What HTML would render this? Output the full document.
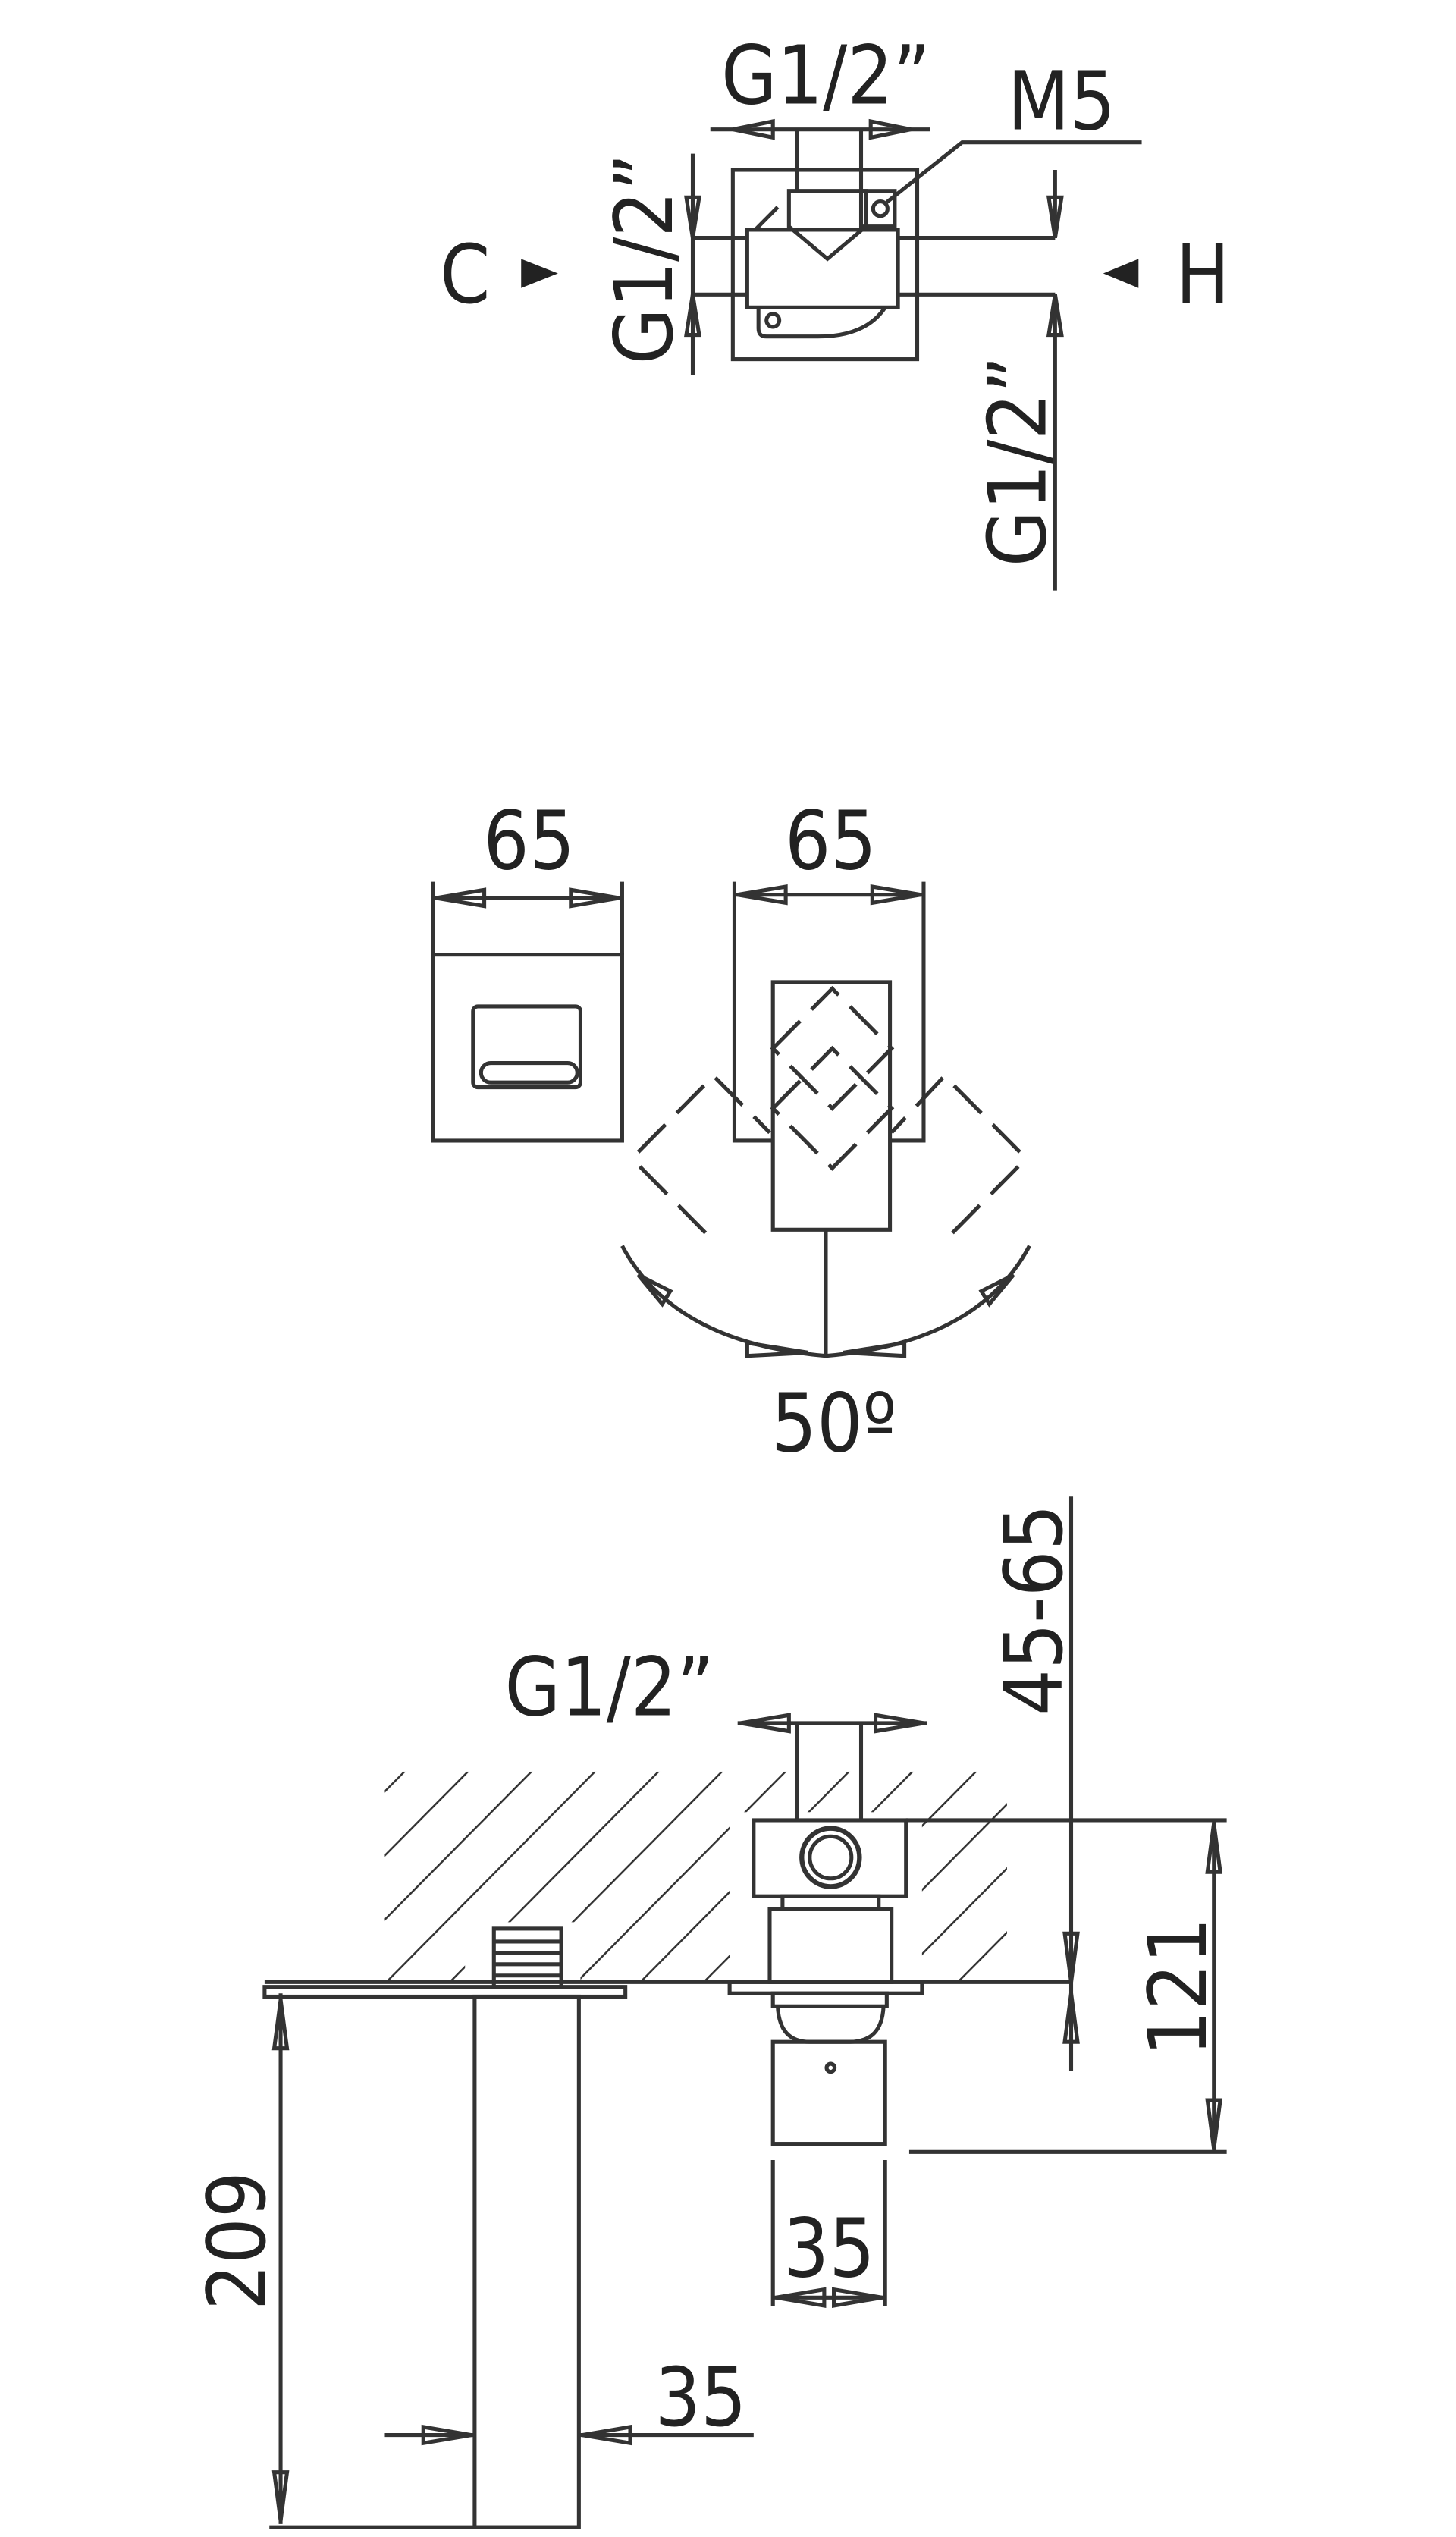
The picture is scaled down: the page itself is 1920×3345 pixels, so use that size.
<!DOCTYPE html>
<html><head><style>
html,body{margin:0;padding:0;background:#fff;}
svg{display:block;}
text{font-family:"DejaVu Sans Condensed","Liberation Sans Narrow","Liberation Sans",sans-serif;fill:#222;}
</style></head><body>
<svg width="1920" height="3345" viewBox="0 0 908 1568" preserveAspectRatio="none" xmlns="http://www.w3.org/2000/svg">
<defs>
<pattern id="h" patternUnits="userSpaceOnUse" width="28" height="28" patternTransform="rotate(45)">
<line x1="0" y1="0" x2="0" y2="28" stroke="#333" stroke-width="2.4"/>
</pattern>
</defs>
<g fill="none" stroke="#333" stroke-width="2.4">
<rect x="457" y="105" width="115" height="117"/>
<line x1="443" y1="80" x2="580" y2="80"/>
<path d="M457 80 l25 -5 v10 z M568 80 l-25 -5 v10 z"/>
<line x1="497" y1="80" x2="497" y2="118"/>
<line x1="537" y1="80" x2="537" y2="118"/>
<path d="M492 118 H540 V140 L516 160 L492 140 Z"/>
<rect x="537" y="118" width="21" height="22"/>
<circle cx="549" cy="129" r="4.5"/>
<path d="M553 125 L600 88 H712"/>
<rect x="466" y="142" width="94" height="48"/>
<path d="M473 190 V203 Q473 208 478 208 H510 Q540 208 552 190"/>
<circle cx="482" cy="198" r="4"/>
<path d="M471 142 L485 128"/>
<line x1="432" y1="147" x2="466" y2="147"/>
<line x1="432" y1="182" x2="466" y2="182"/>
<line x1="560" y1="147" x2="658" y2="147"/>
<line x1="560" y1="182" x2="658" y2="182"/>
<line x1="432" y1="95" x2="432" y2="232"/>
<path d="M432 147 l-4 -25 h8 z M432 182 l-4 25 h8 z"/>
<line x1="658" y1="105" x2="658" y2="147"/>
<line x1="658" y1="182" x2="658" y2="365"/>
<path d="M658 147 l-4 -25 h8 z M658 182 l-4 25 h8 z"/>
<rect x="270" y="590" width="118" height="115"/>
<rect x="295" y="622" width="67" height="50" rx="3"/>
<rect x="300" y="657" width="60" height="12" rx="6"/>
<line x1="270" y1="545" x2="270" y2="590"/>
<line x1="388" y1="545" x2="388" y2="590"/>
<line x1="270" y1="555" x2="388" y2="555"/>
<path d="M272 555 l30 -5 v10 z M386 555 l-30 -5 v10 z"/>
<path d="M458 545 V705 H482 M555 705 H576 V545"/>
<line x1="458" y1="553" x2="576" y2="553"/>
<path d="M460 553 l30 -5 v10 z M574 553 l-30 -5 v10 z"/>
<rect x="482" y="607" width="73" height="153"/>
<g stroke-dasharray="24 10">
<path d="M482 648 L519 611 L556 648 L519 685 Z"/>
<path d="M482 685 L519 648 L556 685 L519 722 Z"/>
<path d="M398 712 L445 665 L480 700 M440 762 L398 720"/>
<path d="M636 712 L589 665 L556 700 M594 762 L636 720"/>
</g>
<line x1="515" y1="760" x2="515" y2="838"/>
<path d="M388 770 Q420 830 515 838 Q610 830 642 770"/>
<path d="M398 788 l15 18 l5 -8 z M632 788 l-15 18 l-5 -8 z M466 830 l38 6 l-38 2 z M564 830 l-38 6 l38 2 z"/>
<rect x="240" y="1095" width="388" height="130" fill="url(#h)" stroke="none"/>
<rect x="455" y="1120" width="120" height="104" fill="#fff" stroke="none"/>
<rect x="290" y="1188" width="72" height="36" fill="#fff" stroke="none"/>
<line x1="165" y1="1225" x2="668" y2="1225"/>
<line x1="497" y1="1065" x2="497" y2="1125"/>
<line x1="537" y1="1065" x2="537" y2="1125"/>
<line x1="460" y1="1065" x2="578" y2="1065"/>
<path d="M462 1065 l30 -5 v10 z M576 1065 l-30 -5 v10 z"/>
<rect x="470" y="1125" width="95" height="47"/>
<circle cx="518" cy="1148" r="18" stroke-width="3"/>
<circle cx="518" cy="1148" r="13"/>
<rect x="488" y="1172" width="60" height="8"/>
<rect x="480" y="1180" width="76" height="45"/>
<rect x="455" y="1225" width="120" height="7"/>
<rect x="482" y="1232" width="71" height="8"/>
<path d="M485 1240 Q486 1262 505 1262 H530 Q550 1262 551 1240"/>
<rect x="482" y="1262" width="70" height="63"/>
<circle cx="518" cy="1278" r="2.5"/>
<line x1="482" y1="1335" x2="482" y2="1425"/>
<line x1="552" y1="1335" x2="552" y2="1425"/>
<line x1="482" y1="1420" x2="552" y2="1420"/>
<path d="M484 1420 l30 -5 v10 z M550 1420 l-30 -5 v10 z"/>
<line x1="668" y1="925" x2="668" y2="1280"/>
<path d="M668 1225 l-4 -30 h8 z M668 1232 l-4 30 h8 z"/>
<line x1="565" y1="1125" x2="765" y2="1125"/>
<line x1="567" y1="1330" x2="765" y2="1330"/>
<line x1="757" y1="1125" x2="757" y2="1330"/>
<path d="M757 1127 l-4 30 h8 z M757 1328 l-4 -30 h8 z"/>
<rect x="165" y="1228" width="225" height="6"/>
<rect x="296" y="1234" width="65" height="328"/>
<rect x="308" y="1192" width="42" height="36"/>
<line x1="308" y1="1200" x2="350" y2="1200"/>
<line x1="308" y1="1207" x2="350" y2="1207"/>
<line x1="308" y1="1214" x2="350" y2="1214"/>
<line x1="308" y1="1221" x2="350" y2="1221"/>
<line x1="168" y1="1562" x2="361" y2="1562"/>
<line x1="175" y1="1232" x2="175" y2="1560"/>
<path d="M175 1236 l-4 30 h8 z M175 1558 l-4 -30 h8 z"/>
<line x1="240" y1="1505" x2="296" y2="1505"/>
<line x1="361" y1="1505" x2="470" y2="1505"/>
<path d="M294 1505 l-30 -5 v10 z M363 1505 l30 -5 v10 z"/>
</g>
<path d="M325 160 L348 169 L325 178 Z M710 160 L688 169 L710 178 Z" fill="#222"/>
<g font-size="50">
<text x="515" y="64" text-anchor="middle">G1/2”</text>
<text x="662" y="80" text-anchor="middle">M5</text>
<text x="290" y="187" text-anchor="middle">C</text>
<text x="750" y="187" text-anchor="middle">H</text>
<text transform="translate(419,160) rotate(-90)" text-anchor="middle">G1/2”</text>
<text transform="translate(652,285) rotate(-90)" text-anchor="middle">G1/2”</text>
<text x="330" y="537" text-anchor="middle">65</text>
<text x="518" y="537" text-anchor="middle">65</text>
<text x="520" y="897" text-anchor="middle">50º</text>
<text x="380" y="1060" text-anchor="middle">G1/2”</text>
<text transform="translate(662,995) rotate(-90)" text-anchor="middle">45-65</text>
<text transform="translate(752,1228) rotate(-90)" text-anchor="middle">121</text>
<text x="517" y="1407" text-anchor="middle">35</text>
<text transform="translate(165,1385) rotate(-90)" text-anchor="middle">209</text>
<text x="437" y="1499" text-anchor="middle">35</text>
</g>
</svg>
</body></html>
